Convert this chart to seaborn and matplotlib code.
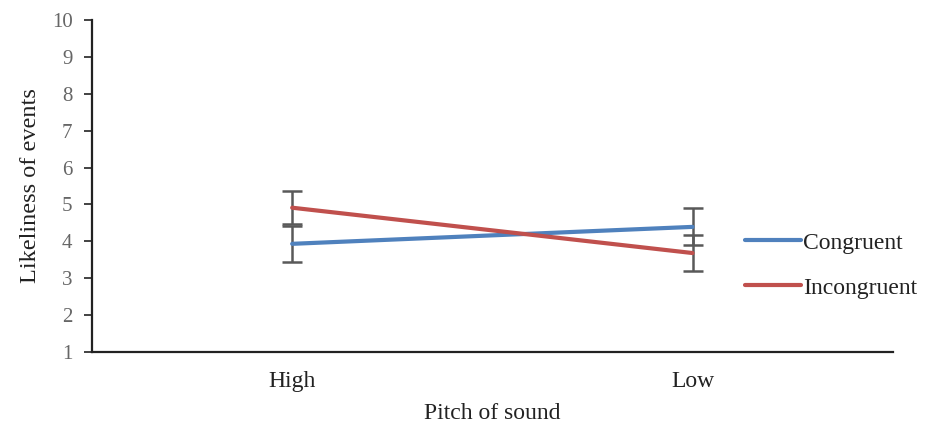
import matplotlib
matplotlib.use("Agg")
import matplotlib.pyplot as plt
import seaborn as sns
import pandas as pd
from matplotlib.lines import Line2D

pitch = ["High", "Low"]
congruent = [3.93, 4.39]
congruent_err = [0.49, 0.50]
incongruent = [4.91, 3.68]
incongruent_err = [0.44, 0.48]
conditions = ["Congruent", "Incongruent"]
colors = {"Congruent": "#4f81bd", "Incongruent": "#c0504d"}

df = pd.DataFrame({
    "Pitch": pitch * 2,
    "Likeliness": congruent + incongruent,
    "err": congruent_err + incongruent_err,
    "Condition": [conditions[0]] * 2 + [conditions[1]] * 2,
})

sns.set_theme(style="white")
plt.rcParams["font.family"] = ["Liberation Serif", "DejaVu Serif"]

fig = plt.figure(figsize=(9.29, 4.28), dpi=100)
ax = fig.add_axes([0.099, 0.178, 0.862, 0.775])

sns.lineplot(data=df, x="Pitch", y="Likeliness", hue="Condition",
             palette=colors, linewidth=3, ax=ax, sort=False, legend=False)

xpos = {p: i for i, p in enumerate(pitch)}
for _, r in df.iterrows():
    ax.errorbar(xpos[r["Pitch"]], r["Likeliness"], yerr=r["err"], fmt="none",
                ecolor="#595959", elinewidth=1.8, capsize=7, capthick=1.8, zorder=1)

ax.set_xlim(-0.5, 1.5)
ax.set_ylim(1, 10)
ax.set_yticks(range(1, 11))
ax.set_xticks([0, 1])
ax.set_xticklabels(pitch)
ax.tick_params(axis="y", which="both", direction="out", length=6, width=1.2,
               color="#222222", labelsize=15, labelcolor="#666666", pad=8, left=True)
ax.tick_params(axis="x", length=0, labelsize=17, labelcolor="#222222", pad=14)
for s in ["top", "right"]:
    ax.spines[s].set_visible(False)
for s in ["left", "bottom"]:
    ax.spines[s].set_color("#222222")
    ax.spines[s].set_linewidth(1.6)

ax.set_xlabel("Pitch of sound", fontsize=17, color="#222222", labelpad=8)
ax.set_ylabel("Likeliness of events", fontsize=17.5, color="#222222", labelpad=8)

handles = [Line2D([0], [0], color=colors[c], lw=3) for c in conditions]
fig.legend(handles, conditions, loc="center left", bbox_to_anchor=(0.802, 0.38),
           frameon=False, fontsize=17, handlelength=2.35, handletextpad=0.1,
           labelspacing=1.0, borderpad=0, borderaxespad=0, labelcolor="#222222")

fig.savefig("out.png", dpi=100)
